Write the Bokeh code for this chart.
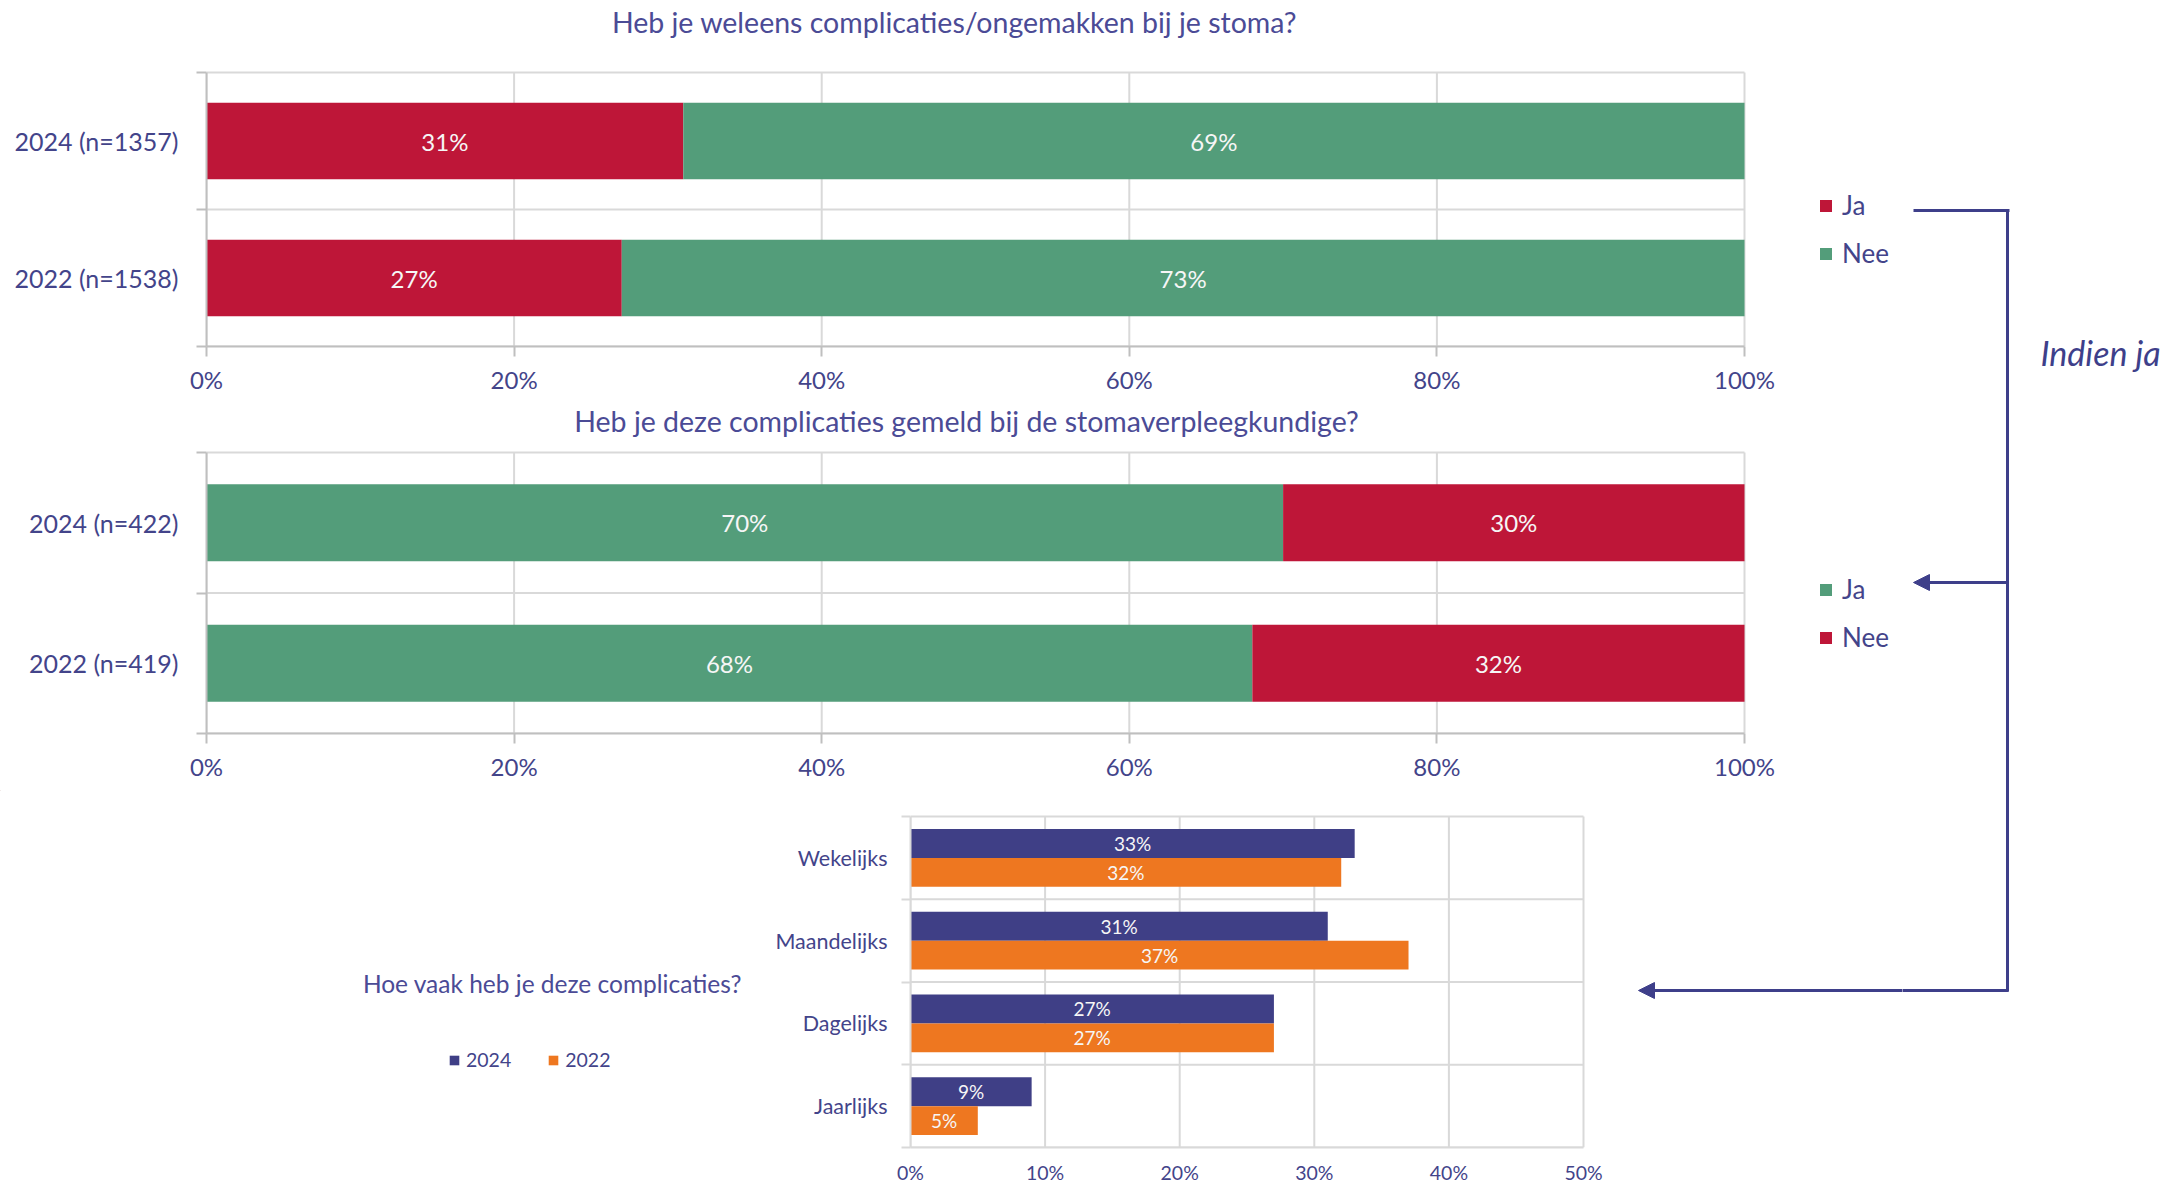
from bokeh.plotting import figure
from bokeh.models import (Range1d, FixedTicker, PrintfTickFormatter, Label, Arrow,
                          NormalHead, Legend, LegendItem)
from bokeh.layouts import column, row
from bokeh.embed import file_html
from bokeh.resources import INLINE
from bokeh.core.properties import value

# ---------------- data ----------------
q1_title = "Heb je weleens complicaties/ongemakken bij je stoma?"
q1_groups = ["2024 (n=1357)", "2022 (n=1538)"]
q1_series = ["Ja", "Nee"]
q1_ja = [31, 27]
q1_nee = [69, 73]

q2_title = "Heb je deze complicaties gemeld bij de stomaverpleegkundige?"
q2_groups = ["2024 (n=422)", "2022 (n=419)"]
q2_series = ["Ja", "Nee"]
q2_ja = [70, 68]
q2_nee = [30, 32]

q3_title = "Hoe vaak heb je deze complicaties?"
q3_cats = ["Wekelijks", "Maandelijks", "Dagelijks", "Jaarlijks"]
q3_series = ["2024", "2022"]
q3_2024 = [33, 31, 27, 9]
q3_2022 = [32, 37, 27, 5]

ticks_100 = [0, 20, 40, 60, 80, 100]
ticks_50 = [0, 10, 20, 30, 40, 50]
bracket_text = "Indien ja"

# ---------------- style ----------------
FONT = "Lato"
TXT = "#43448A"
TITLE = "#4B4B96"
GRID = "#D9D9D9"
AXIS = "#BFBFBF"
RED = "#BE1638"
GREEN = "#539D7A"
NAVY = "#3F3F86"
ORANGE = "#EE7720"
LINE = "#3E3F8A"
WHITE = "#F6F6F6"
SPLIT = 1902          # page x where the right-hand annotation strip starts
PAGE_R = 2178
PAGE_B = 1186


def chart_fig(fig_l, fl, fr, ft, fb, fig_b, x0p, x1p, xmax, y0p, y1p, ny):
    """Frame from (fl,ft) to (fr,fb) in page pixels; data 0..xmax spans x0p..x1p,
    data 0..ny spans y0p (bottom)..y1p (top)."""
    kx = (x1p - x0p) / xmax
    ky = (y0p - y1p) / ny
    p = figure(frame_width=fr - fl, frame_height=fb - ft,
               min_border_left=fl - fig_l, min_border_right=0,
               min_border_top=0, min_border_bottom=fig_b - fb,
               x_range=Range1d((fl - x0p) / kx, (fr - x0p) / kx),
               y_range=Range1d((y0p - fb) / ky, (y0p - ft) / ky),
               output_backend="svg", toolbar_location=None, tools="")
    p.outline_line_color = None
    p.grid.visible = False
    X = lambda px: (px - x0p) / kx
    Y = lambda py: (y0p - py) / ky
    return p, X, Y


def blank_fig(l, r, t, b, bottom_border=0):
    p = figure(frame_width=r - l, frame_height=b - t,
               min_border_left=0, min_border_right=0, min_border_top=0,
               min_border_bottom=bottom_border,
               x_range=Range1d(l, r), y_range=Range1d(b, t),
               output_backend="svg", toolbar_location=None, tools="")
    p.outline_line_color = None
    p.axis.visible = False
    p.grid.visible = False
    return p


def style_axes(p, xticks, xmax, ypos, ylabels, n, xfont, yfont, x_tick_out, y_tick_out,
               axis_col, xstand, ystand):
    p.xaxis.bounds = (0, xmax)
    p.xaxis.ticker = FixedTicker(ticks=xticks)
    p.xaxis.formatter = PrintfTickFormatter(format="%d%%")
    p.xaxis.major_label_text_font = FONT
    p.xaxis.major_label_text_font_size = xfont
    p.xaxis.major_label_text_color = TXT
    p.xaxis.major_label_standoff = xstand
    p.xaxis.axis_line_color = axis_col
    p.xaxis.axis_line_width = 2
    p.xaxis.major_tick_out = x_tick_out
    p.xaxis.major_tick_in = 0
    p.xaxis.major_tick_line_color = axis_col if x_tick_out else None
    p.xaxis.major_tick_line_width = 2
    p.xaxis.minor_tick_line_color = None

    p.yaxis.bounds = (0, n)
    p.yaxis.ticker = FixedTicker(ticks=ypos, minor_ticks=list(range(n + 1)))
    p.yaxis.major_label_overrides = {float(y): lab for y, lab in zip(ypos, ylabels)}
    p.yaxis.major_label_text_font = FONT
    p.yaxis.major_label_text_font_size = yfont
    p.yaxis.major_label_text_color = TXT
    p.yaxis.major_label_standoff = ystand
    p.yaxis.axis_line_color = axis_col
    p.yaxis.axis_line_width = 2
    p.yaxis.major_tick_line_color = None
    p.yaxis.major_tick_out = 0
    p.yaxis.major_tick_in = 0
    p.yaxis.minor_tick_out = y_tick_out
    p.yaxis.minor_tick_in = 0
    p.yaxis.minor_tick_line_color = axis_col
    p.yaxis.minor_tick_line_width = 2

    # grid lines restricted to the plot area
    p.segment(x0=xticks, x1=xticks, y0=0, y1=n, line_color=GRID, line_width=2)
    p.segment(x0=0, x1=xmax, y0=list(range(n + 1)), y1=list(range(n + 1)),
              line_color=GRID, line_width=2)


def arrow(p, x0, y0, x1, y1, head=False):
    p.add_layout(Arrow(x_start=x0, y_start=y0, x_end=x1, y_end=y1, start=None,
                       end=NormalHead(size=16, fill_color=LINE, line_color=LINE, line_width=1) if head else None,
                       line_color=LINE, line_width=3))


def stacked(p, groups, first, second, c1, c2, bar_h):
    n = len(groups)
    ypos = [n - 0.5 - i for i in range(n)]
    tot = [a + b for a, b in zip(first, second)]
    r1 = p.hbar(y=ypos, left=0, right=first, height=bar_h, fill_color=c1, line_color=None)
    r2 = p.hbar(y=ypos, left=first, right=tot, height=bar_h, fill_color=c2, line_color=None)
    p.text(x=[v / 2 for v in first], y=ypos, text=[f"{v}%" for v in first],
           text_font=value(FONT), text_font_size="24px", text_color=WHITE,
           text_align="center", text_baseline="middle")
    p.text(x=[a + b / 2 for a, b in zip(first, second)], y=ypos, text=[f"{v}%" for v in second],
           text_font=value(FONT), text_font_size="24px", text_color=WHITE,
           text_align="center", text_baseline="middle")
    return ypos, r1, r2


def legend_v(p, items, vx, vy):
    p.add_layout(Legend(items=items, location=(vx, vy), orientation="vertical",
                        glyph_width=15, glyph_height=15, label_standoff=9, spacing=16,
                        padding=0, margin=0, background_fill_alpha=0, border_line_alpha=0,
                        label_text_font=FONT, label_text_font_size="26px",
                        label_text_color=TXT))


# ---------------- chart 1 (page y 0..400) ----------------
p1, X1, Y1 = chart_fig(0, 206, SPLIT, 0, 346, 400, 206, 1744, 100, 346, 72, 2)
ypos1, ra, rb = stacked(p1, q1_groups, q1_ja, q1_nee, RED, GREEN, 0.56)
style_axes(p1, ticks_100, 100, ypos1, q1_groups, 2, "24px", "25px", 10, 10, AXIS, 8, 18)
p1.renderers = p1.renderers[-2:] + p1.renderers[:-2]   # grid segments under the bars
p1.add_layout(Label(x=X1(954), y=Y1(21), text=q1_title, text_font=FONT, text_font_size="28.5px",
                    text_color=TITLE, text_align="center", text_baseline="middle"))
legend_v(p1, [LegendItem(label=q1_series[0], renderers=[ra]),
              LegendItem(label=q1_series[1], renderers=[rb])], 1818 - 206, 346 - 269)

# ---------------- chart 2 (page y 400..790) ----------------
p2, X2, Y2 = chart_fig(0, 206, SPLIT, 400, 733, 790, 206, 1744, 100, 733, 452, 2)
ypos2, rc, rd = stacked(p2, q2_groups, q2_ja, q2_nee, GREEN, RED, 0.548)
style_axes(p2, ticks_100, 100, ypos2, q2_groups, 2, "24px", "25px", 10, 10, AXIS, 8, 18)
p2.renderers = p2.renderers[-2:] + p2.renderers[:-2]
p2.add_layout(Label(x=X2(966), y=Y2(420), text=q2_title, text_font=FONT, text_font_size="28.5px",
                    text_color=TITLE, text_align="center", text_baseline="middle"))
legend_v(p2, [LegendItem(label=q2_series[0], renderers=[rc]),
              LegendItem(label=q2_series[1], renderers=[rd])], 1818 - 206, 733 - 653)

# ---------------- chart 3 (page y 790..PAGE_B) ----------------
p3, X3, Y3 = chart_fig(770, 910, SPLIT, 790, 1147, PAGE_B, 910, 1583, 50, 1147, 816, 4)
n3 = len(q3_cats)
ypos3 = [n3 - 0.5 - i for i in range(n3)]
bh = 0.35
style_axes(p3, ticks_50, 50, ypos3, q3_cats, n3, "19.5px", "21.5px", 0, 9, GRID, 13, 14)
r24 = p3.hbar(y=[y + bh / 2 for y in ypos3], left=0, right=q3_2024, height=bh,
              fill_color=NAVY, line_color=None)
r22 = p3.hbar(y=[y - bh / 2 for y in ypos3], left=0, right=q3_2022, height=bh,
              fill_color=ORANGE, line_color=None)
p3.text(x=[v / 2 for v in q3_2024], y=[y + bh / 2 for y in ypos3], text=[f"{v}%" for v in q3_2024],
        text_font=value(FONT), text_font_size="19px", text_color=WHITE,
        text_align="center", text_baseline="middle")
p3.text(x=[v / 2 for v in q3_2022], y=[y - bh / 2 for y in ypos3], text=[f"{v}%" for v in q3_2022],
        text_font=value(FONT), text_font_size="19px", text_color=WHITE,
        text_align="center", text_baseline="middle")
arrow(p3, X3(SPLIT + 4), Y3(990), X3(1638), Y3(990), head=True)

# left part of the bottom row: title and legend of chart 3
p3l = blank_fig(0, 770, 790, 1147, bottom_border=PAGE_B - 1147)
# legend swatches only (kept far outside the visible frame)
d24 = p3l.hbar(y=[-5000], left=[-5000], right=[-4990], height=1, fill_color=NAVY, line_color=None)
d22 = p3l.hbar(y=[-5000], left=[-5000], right=[-4990], height=1, fill_color=ORANGE, line_color=None)
p3l.add_layout(Label(x=552, y=983, text=q3_title, text_font=FONT, text_font_size="24.5px",
                     text_color=TITLE, text_align="center", text_baseline="middle"))
p3l.add_layout(Legend(items=[LegendItem(label=q3_series[0], renderers=[d24]),
                             LegendItem(label=q3_series[1], renderers=[d22])],
                      location=(448, 1147 - 1071), orientation="horizontal",
                      glyph_width=12, glyph_height=12, label_standoff=6, spacing=36,
                      padding=0, margin=0, background_fill_alpha=0, border_line_alpha=0,
                      label_text_font=FONT, label_text_font_size="19.5px", label_text_color=TXT))

# ---------------- right strip: bracket and arrows ----------------
pr = blank_fig(SPLIT, PAGE_R, 0, PAGE_B)
arrow(pr, 1913, 210, 2009, 210)
arrow(pr, 2007, 209, 2007, 991)
arrow(pr, 2007, 582, 1913, 582, head=True)
arrow(pr, 2008, 990, SPLIT - 4, 990)
pr.add_layout(Label(x=2040, y=352, text=bracket_text, text_font=FONT, text_font_size="34px",
                    text_font_style="italic", text_color=LINE, text_align="left",
                    text_baseline="middle"))

layout = row(column(p1, p2, row(p3l, p3, spacing=0), spacing=0), pr, spacing=0)
open("out.html", "w").write(file_html(layout, INLINE))
